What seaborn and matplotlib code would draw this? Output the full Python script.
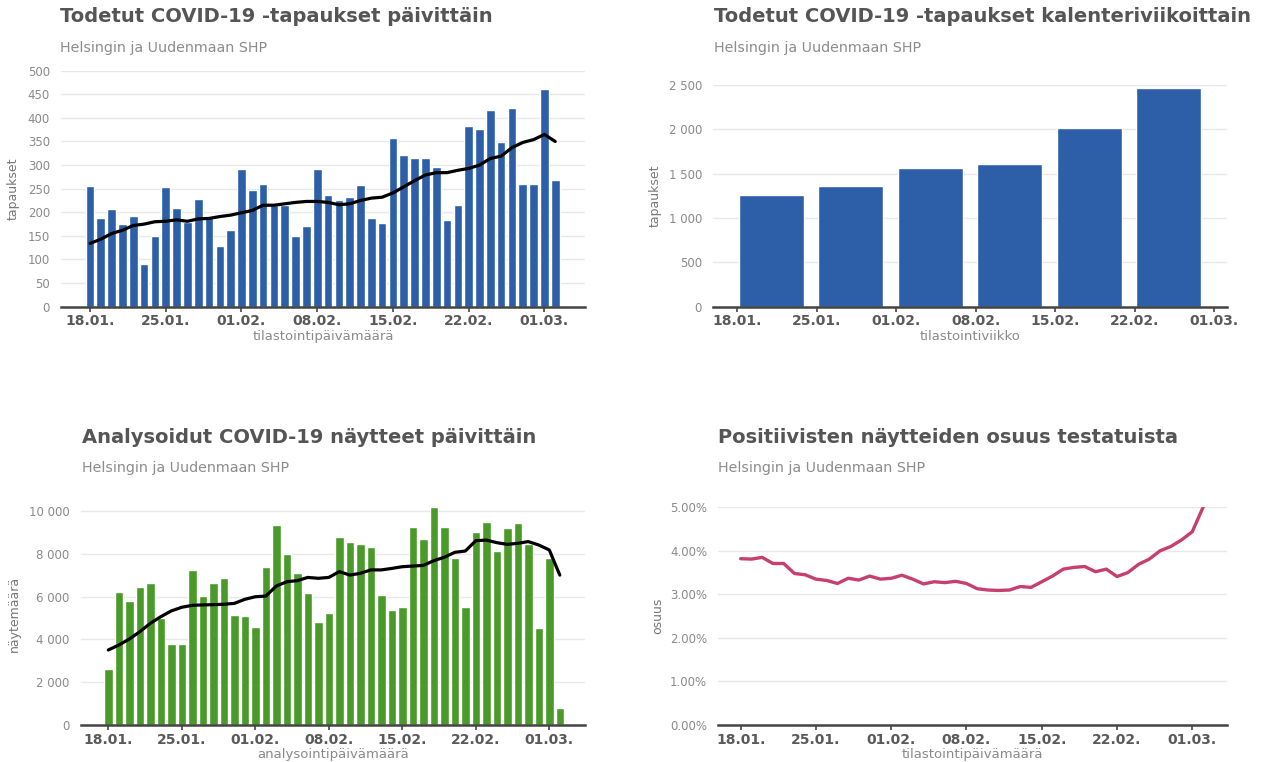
import numpy as np
import pandas as pd
import matplotlib
matplotlib.use("Agg")
import matplotlib.pyplot as plt
import seaborn as sns
from matplotlib.ticker import FuncFormatter, MultipleLocator

# ---------------- data ----------------
dates = pd.date_range("2021-01-18", "2021-03-02", freq="D")

daily_cases = [256, 187, 207, 175, 193, 90, 150,
               254, 210, 180, 228, 190, 128, 162,
               292, 247, 261, 215, 215, 150, 170,
               292, 236, 225, 233, 257, 187, 178,
               358, 322, 316, 316, 297, 183, 216,
               382, 376, 416, 348, 422, 259, 259,
               462, 269]

cases_avg = [134, 143, 155, 162, 172, 175, 180,
             181, 184, 181, 186, 187, 191, 194,
             199, 204, 215, 215, 218, 221, 223,
             223, 221, 216, 218, 225, 230, 232,
             241, 254, 267, 279, 284, 284, 289,
             293, 300, 314, 319, 337, 348, 354,
             365, 350]

week_labels = ["18.01.", "25.01.", "01.02.", "08.02.", "15.02.", "22.02."]
weekly_cases = [1259, 1360, 1560, 1610, 2010, 2462]

daily_tests = [2620, 6200, 5790, 6440, 6630, 5000, 3770,
               3770, 7220, 6010, 6630, 6850, 5160, 5110,
               4600, 7380, 9350, 7970, 7110, 6150, 4830,
               5220, 8790, 8520, 8450, 8290, 6060, 5370,
               5530, 9250, 8660, 10150, 9250, 7780, 5530,
               9020, 9490, 8140, 9180, 9410, 8450, 4520,
               7780, 790]

tests_avg = [3510, 3740, 4020, 4360, 4750, 5060, 5330,
             5500, 5590, 5610, 5620, 5640, 5680, 5870,
             5990, 6020, 6490, 6690, 6740, 6890, 6850,
             6890, 7160, 7000, 7080, 7240, 7240, 7310,
             7390, 7420, 7450, 7670, 7830, 8060, 8120,
             8600, 8630, 8510, 8430, 8480, 8560, 8400,
             8170, 7000]

positive_share = [3.82, 3.81, 3.85, 3.71, 3.71, 3.48, 3.45,
                  3.35, 3.32, 3.25, 3.37, 3.33, 3.42, 3.35,
                  3.37, 3.44, 3.35, 3.24, 3.29, 3.27, 3.30,
                  3.25, 3.13, 3.10, 3.09, 3.10, 3.18, 3.16,
                  3.29, 3.42, 3.58, 3.62, 3.64, 3.52, 3.58,
                  3.41, 3.50, 3.69, 3.81, 4.00, 4.10, 4.25,
                  4.44, 5.00]

tick_labels = ["18.01.", "25.01.", "01.02.", "08.02.", "15.02.", "22.02.", "01.03."]

# ---------------- style ----------------
sns.set_theme(style="white")
plt.rcParams["font.family"] = ["DejaVu Sans"]

BLUE = "#2d5fa8"
GREEN = "#4a9a2a"
PINK = "#c5406f"
TITLE_C = "#555555"
SUB_C = "#8c8c8c"

W, H = 1263, 762
fig = plt.figure(figsize=(W / 100, H / 100), dpi=100)
fig.patch.set_facecolor("white")

days = np.array([(d - dates[0]).days for d in dates])
tick_pos = np.arange(len(tick_labels)) * 7


def add_axes(l, r, t, b):
    return fig.add_axes([l / W, 1 - b / H, (r - l) / W, (b - t) / H])


def ftext(x, y, s, **kw):
    fig.text(x / W, 1 - y / H, s, va="center", ha="left", **kw)


def space_thousands(v, _):
    return f"{int(round(v)):,}".replace(",", " ")


def style(ax, xlim, ylim, ystep, yfmt, ylabel, xlabel, ylabelpad):
    ax.set_xlim(*xlim)
    ax.set_ylim(*ylim)
    ax.yaxis.set_major_locator(MultipleLocator(ystep))
    ax.yaxis.set_major_formatter(FuncFormatter(yfmt))
    ax.grid(axis="y", color="#e8e8e8", lw=1)
    ax.grid(axis="x", visible=False)
    ax.set_axisbelow(True)
    for s in ["left", "right", "top"]:
        ax.spines[s].set_visible(False)
    ax.spines["bottom"].set_color("#444444")
    ax.spines["bottom"].set_linewidth(1.8)
    ax.tick_params(axis="y", length=0, labelsize=8.5, labelcolor="#8a8a8a", pad=8)
    ax.tick_params(axis="x", length=3.5, width=1.2, color="#444444", bottom=True,
                   labelsize=10, labelcolor="#5a5a5a", pad=2)
    ax.set_xticks(tick_pos, tick_labels, fontweight="bold")
    ax.set_ylabel(ylabel, fontsize=9, color="#777777", labelpad=ylabelpad)
    ax.set_xlabel(xlabel, fontsize=9.5, color="#8a8a8a", labelpad=1)
    ax.set_facecolor("white")


TITLE_FS = 14
SUB_FS = 10.3

# ---------- top-left: daily cases ----------
ax1 = add_axes(61, 585, 70.7, 306.7)
sns.barplot(x=days, y=daily_cases, native_scale=True, width=0.8, color=BLUE,
            saturation=1, errorbar=None, ax=ax1)
sns.lineplot(x=days, y=cases_avg, color="black", linewidth=2.3, ax=ax1)
style(ax1, (-2.68, 45.75), (0, 500), 50, lambda v, _: f"{int(v)}",
      "tapaukset", "tilastointipäivämäärä", 5.5)
ftext(60, 17, "Todetut COVID-19 -tapaukset päivittäin", fontsize=TITLE_FS,
      fontweight="bold", color=TITLE_C)
ftext(60, 48, "Helsingin ja Uudenmaan SHP", fontsize=SUB_FS, color=SUB_C)

# ---------- top-right: weekly cases ----------
ax2 = add_axes(713, 1226.7, 85, 306.7)
week_pos = np.arange(len(week_labels)) * 7 + 3
sns.barplot(x=week_pos, y=weekly_cases, native_scale=True, width=0.82, color=BLUE,
            saturation=1, errorbar=None, ax=ax2)
style(ax2, (-2.14, 43.1), (0, 2500), 500, space_thousands,
      "tapaukset", "tilastointiviikko", 5)
ftext(714, 17, "Todetut COVID-19 -tapaukset kalenteriviikoittain", fontsize=TITLE_FS,
      fontweight="bold", color=TITLE_C)
ftext(714, 48, "Helsingin ja Uudenmaan SHP", fontsize=SUB_FS, color=SUB_C)

# ---------- bottom-left: daily tests ----------
ax3 = add_axes(80.7, 585, 502.1, 725.3)
sns.barplot(x=days, y=daily_tests, native_scale=True, width=0.8, color=GREEN,
            saturation=1, errorbar=None, ax=ax3)
sns.lineplot(x=days, y=tests_avg, color="black", linewidth=2.3, ax=ax3)
style(ax3, (-2.63, 45.4), (0, 10400), 2000, space_thousands,
      "näytemäärä", "analysointipäivämäärä", 6)
ftext(82, 437, "Analysoidut COVID-19 näytteet päivittäin", fontsize=TITLE_FS,
      fontweight="bold", color=TITLE_C)
ftext(82, 468, "Helsingin ja Uudenmaan SHP", fontsize=SUB_FS, color=SUB_C)

# ---------- bottom-right: positive share ----------
ax4 = add_axes(718.3, 1226.7, 507.3, 725)
sns.lineplot(x=days, y=positive_share, color=PINK, linewidth=2.4, ax=ax4)
style(ax4, (-2.08, 45.2), (0, 5), 1, lambda v, _: f"{v:.2f}%",
      "osuus", "tilastointipäivämäärä", 4)
ftext(718, 437, "Positiivisten näytteiden osuus testatuista", fontsize=TITLE_FS,
      fontweight="bold", color=TITLE_C)
ftext(718, 468, "Helsingin ja Uudenmaan SHP", fontsize=SUB_FS, color=SUB_C)

fig.savefig("out.png", dpi=100, facecolor="white")
